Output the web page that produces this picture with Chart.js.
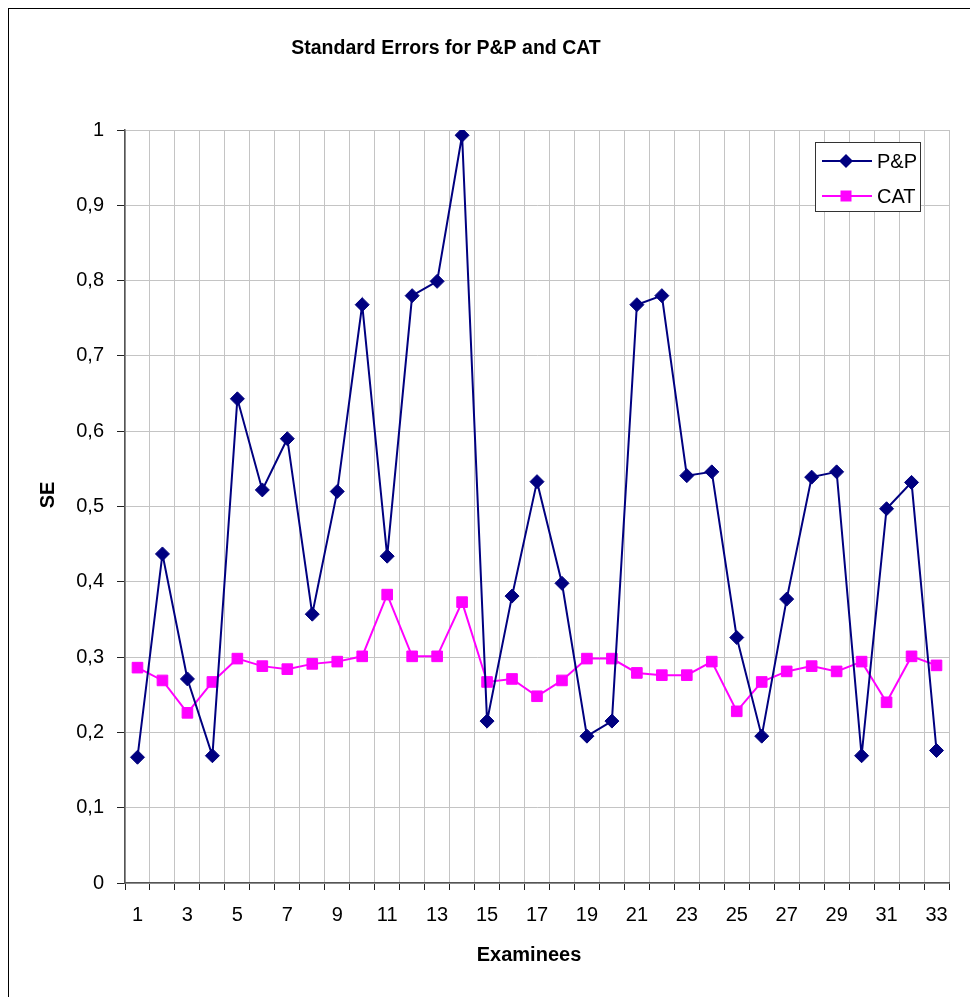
<!DOCTYPE html>
<html>
<head>
<meta charset="utf-8">
<script src="https://cdn.jsdelivr.net/npm/chart.js@4/dist/chart.umd.min.js"></script>
<style>
  html, body { margin: 0; padding: 0; background: #fff; overflow: hidden; }
  #wrap { position: relative; width: 970px; height: 997px; }
  #frame { position: absolute; left: 8px; top: 8px; width: 1200px; height: 1200px;
           border-left: 1.5px solid #000; border-top: 1.5px solid #000; box-sizing: border-box; }
  canvas { position: absolute; left: 0; top: 0; }
</style>
</head>
<body>
<div id="wrap">
  <div id="frame"></div>
  <canvas id="chart" width="970" height="997"></canvas>
</div>
<script>
// Examinee numbers 1..33
const examinees = ['1','2','3','4','5','6','7','8','9','10','11','12','13','14','15','16','17',
                   '18','19','20','21','22','23','24','25','26','27','28','29','30','31','32','33'];

// Standard errors, paper-and-pencil test
const ppSE = [0.167, 0.437, 0.271, 0.169, 0.643, 0.522, 0.590, 0.357, 0.520, 0.768, 0.434,
              0.780, 0.799, 0.993, 0.215, 0.381, 0.533, 0.398, 0.195, 0.215, 0.768, 0.780,
              0.541, 0.546, 0.326, 0.195, 0.377, 0.539, 0.546, 0.169, 0.497, 0.532, 0.176];

// Standard errors, computerized adaptive test
const catSE = [0.286, 0.269, 0.226, 0.267, 0.298, 0.288, 0.284, 0.291, 0.294, 0.301, 0.383,
               0.301, 0.301, 0.373, 0.267, 0.271, 0.248, 0.269, 0.298, 0.298, 0.279, 0.276,
               0.276, 0.294, 0.228, 0.267, 0.281, 0.288, 0.281, 0.294, 0.240, 0.301, 0.289];

const seriesNames = ['P&P', 'CAT'];
const chartTitle = 'Standard Errors for P&P and CAT';
const xTitle = 'Examinees';
const yTitle = 'SE';

const FONT = '"Liberation Sans", Arial, sans-serif';
const NAVY = '#000080';
const MAGENTA = '#FF00FF';

// Chart title and the two axis titles
const titlesPlugin = {
  id: 'titles',
  afterDraw(chart) {
    const ctx = chart.ctx;
    ctx.save();
    ctx.fillStyle = '#000';
    ctx.textAlign = 'center';
    ctx.textBaseline = 'middle';
    ctx.font = 'bold 19.5px ' + FONT;
    ctx.fillText(chartTitle, 446, 49);
    ctx.font = 'bold 20px ' + FONT;
    ctx.fillText(xTitle, 529, 955);
    ctx.translate(48, 495);
    ctx.rotate(-Math.PI / 2);
    ctx.fillText(yTitle, 0, 0);
    ctx.restore();
  }
};

// Boxed legend in the upper right of the plot area
const boxLegend = {
  id: 'boxLegend',
  afterDraw(chart) {
    const ctx = chart.ctx;
    const x0 = 815, y0 = 142, w = 105, h = 69;
    ctx.save();
    ctx.fillStyle = '#fff';
    ctx.fillRect(x0, y0, w, h);
    ctx.strokeStyle = '#333';
    ctx.lineWidth = 1;
    ctx.strokeRect(x0 + 0.5, y0 + 0.5, w, h);
    const rows = [161, 196];
    chart.data.datasets.forEach((ds, i) => {
      const y = rows[i];
      ctx.strokeStyle = ds.borderColor;
      ctx.lineWidth = 2;
      ctx.beginPath();
      ctx.moveTo(822, y);
      ctx.lineTo(872, y);
      ctx.stroke();
      ctx.fillStyle = ds.backgroundColor;
      ctx.beginPath();
      if (ds.pointStyle === 'rectRot') {
        ctx.moveTo(846 - 7, y); ctx.lineTo(846, y - 7);
        ctx.lineTo(846 + 7, y); ctx.lineTo(846, y + 7);
      } else {
        ctx.rect(846 - 5.5, y - 5.5, 11, 11);
      }
      ctx.closePath();
      ctx.fill();
      ctx.fillStyle = '#000';
      ctx.font = '20px ' + FONT;
      ctx.textAlign = 'left';
      ctx.textBaseline = 'middle';
      ctx.fillText(ds.label, 877, y + 1);
    });
    ctx.restore();
  }
};

new Chart(document.getElementById('chart'), {
  type: 'line',
  data: {
    labels: examinees,
    datasets: [
      {
        label: seriesNames[0],
        data: ppSE,
        borderColor: NAVY,
        backgroundColor: NAVY,
        borderWidth: 2,
        pointStyle: 'rectRot',
        pointRadius: 7,
        pointBorderWidth: 1,
        tension: 0
      },
      {
        label: seriesNames[1],
        data: catSE,
        borderColor: MAGENTA,
        backgroundColor: MAGENTA,
        borderWidth: 2,
        pointStyle: 'rect',
        pointRadius: 7.5,
        pointBorderWidth: 1,
        tension: 0
      }
    ]
  },
  options: {
    responsive: false,
    animation: false,
    layout: { padding: { left: 8, top: 130, right: 21, bottom: 0 } },
    plugins: {
      legend: { display: false },
      title: { display: false },
      tooltip: { enabled: false }
    },
    scales: {
      x: {
        offset: true,
        grid: { offset: true, color: '#c4c4c4', lineWidth: 1, tickLength: 7, tickColor: '#222' },
        border: { color: '#555', width: 1.5 },
        ticks: {
          autoSkip: false,
          maxRotation: 0,
          minRotation: 0,
          padding: 13,
          color: '#000',
          font: { family: FONT, size: 20 },
          callback: (v, i) => (i % 2 === 0 ? examinees[i] : '')
        },
        afterFit: (scale) => { scale.height = 114; }
      },
      y: {
        min: 0,
        max: 1,
        grid: { color: '#c4c4c4', lineWidth: 1, tickLength: 8, tickColor: '#222' },
        border: { color: '#555', width: 1.5 },
        ticks: {
          stepSize: 0.1,
          padding: 13,
          color: '#000',
          font: { family: FONT, size: 20 },
          callback: (v) => (v === 0 ? '0' : v === 1 ? '1' : Number(v).toFixed(1).replace('.', ','))
        },
        afterFit: (scale) => { scale.width = 117; }
      }
    }
  },
  plugins: [titlesPlugin, boxLegend]
});
</script>
</body>
</html>
